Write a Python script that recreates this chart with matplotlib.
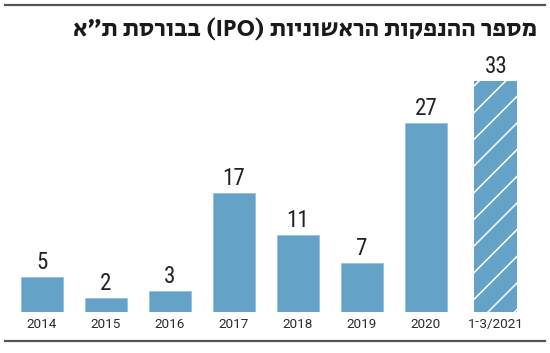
import matplotlib
matplotlib.use("Agg")
import matplotlib.pyplot as plt
from matplotlib.lines import Line2D
from matplotlib import font_manager
import numpy as np

# ---- data ----
categories = ["2014", "2015", "2016", "2017", "2018", "2019", "2020", "1\u05be3/2021"]
values = [5, 2, 3, 17, 11, 7, 27, 33]
title_logical = "מספר ההנפקות הראשוניות (IPO) בבורסת ת״א"


def visual_rtl(s):
    words = s.split(" ")
    out = []
    for w in reversed(words):
        if any("\u0590" <= ch <= "\u05ff" for ch in w):
            out.append(w[::-1])
        else:
            out.append(w)
    return " ".join(out)


ttf = font_manager.fontManager.ttflist
names = {f.name for f in ttf}

def pick(cands, default="DejaVu Sans"):
    for c in cands:
        if c in names:
            return c
    return default

def pick_heavy(cands):
    # (name, minimum weight) in order of preference
    for name, wmin in cands:
        ws = [f.weight for f in ttf if f.name == name]
        ws = [w if isinstance(w, int) else 400 for w in ws]
        good = [w for w in ws if w >= wmin]
        if good:
            return name, max(good)
    return "DejaVu Sans", 700

title_font, title_weight = pick_heavy([
    ("Heebo", 800), ("Secular One", 400), ("Rubik", 700), ("Assistant", 700),
    ("Noto Sans Hebrew", 700), ("Open Sans", 700), ("DejaVu Sans", 700)])
value_font = pick(["Roboto Condensed", "Barlow Condensed", "Archivo Narrow", "Asap Condensed"])
tick_font = pick(["Roboto", "Heebo"])

DPI = 80
W, H = 550, 353
fig = plt.figure(figsize=(W / DPI, H / DPI), dpi=DPI)
fig.patch.set_facecolor("white")

def px2pt(px):
    return px * 72.0 / DPI

plt.rcParams["hatch.linewidth"] = 1.4
plt.rcParams["hatch.color"] = "white"

x0_px, unit_px = 42.0, 64.0
xlim = (-0.6, 7.75)
base_px, yunit_px = 312.0, 7.0
ylim = (0, 36)
left = x0_px + xlim[0] * unit_px
width = (xlim[1] - xlim[0]) * unit_px
bottom = H - base_px
height = (ylim[1] - ylim[0]) * yunit_px
ax = fig.add_axes([left / W, bottom / H, width / W, height / H])

x = np.arange(len(categories), dtype=float)
x[-1] += 0.09
bar_color = "#64a2c7"
ax.bar(x[:-1], values[:-1], width=0.667, color=bar_color,
       edgecolor="#8dbcd9", linewidth=0.6)
ax.bar(x[-1:], values[-1:], width=0.667, color=bar_color,
       edgecolor="white", linewidth=0, hatch="/")

for xi, v in zip(x, values):
    ax.annotate(str(v), (xi, v), xytext=(0, px2pt(3)), textcoords="offset points",
                ha="center", va="bottom", fontsize=px2pt(23),
                family=[value_font, "DejaVu Sans"], color="#222222")

ax.set_xlim(*xlim)
ax.set_ylim(*ylim)
ax.set_xticks(x)
ax.set_xticklabels(categories, family=[tick_font, "DejaVu Sans"],
                   fontsize=px2pt(13.5), color="#2b2b2b")
ax.tick_params(axis="x", length=0, pad=px2pt(6))
ax.set_yticks([])
for s in ax.spines.values():
    s.set_visible(False)

t = fig.text(537 / W, 1 - 29.5 / H, visual_rtl(title_logical), ha="right", va="center",
             fontsize=px2pt(23), fontweight=title_weight,
             family=[title_font, "DejaVu Sans"], color="#1a1a1a")
# fit title to reference width (~464 px)
fig.canvas.draw()
bb = t.get_window_extent()
t.set_fontsize(px2pt(23) * 464.0 / bb.width)

fig.add_artist(Line2D([5 / W, 545 / W], [1 - 5 / H, 1 - 5 / H], color="#555555",
                      linewidth=px2pt(2.2), transform=fig.transFigure))
fig.add_artist(Line2D([5 / W, 545 / W], [1 - 341 / H, 1 - 341 / H], color="#555555",
                      linewidth=px2pt(2.2), transform=fig.transFigure))

fig.savefig("out.png", dpi=DPI)
